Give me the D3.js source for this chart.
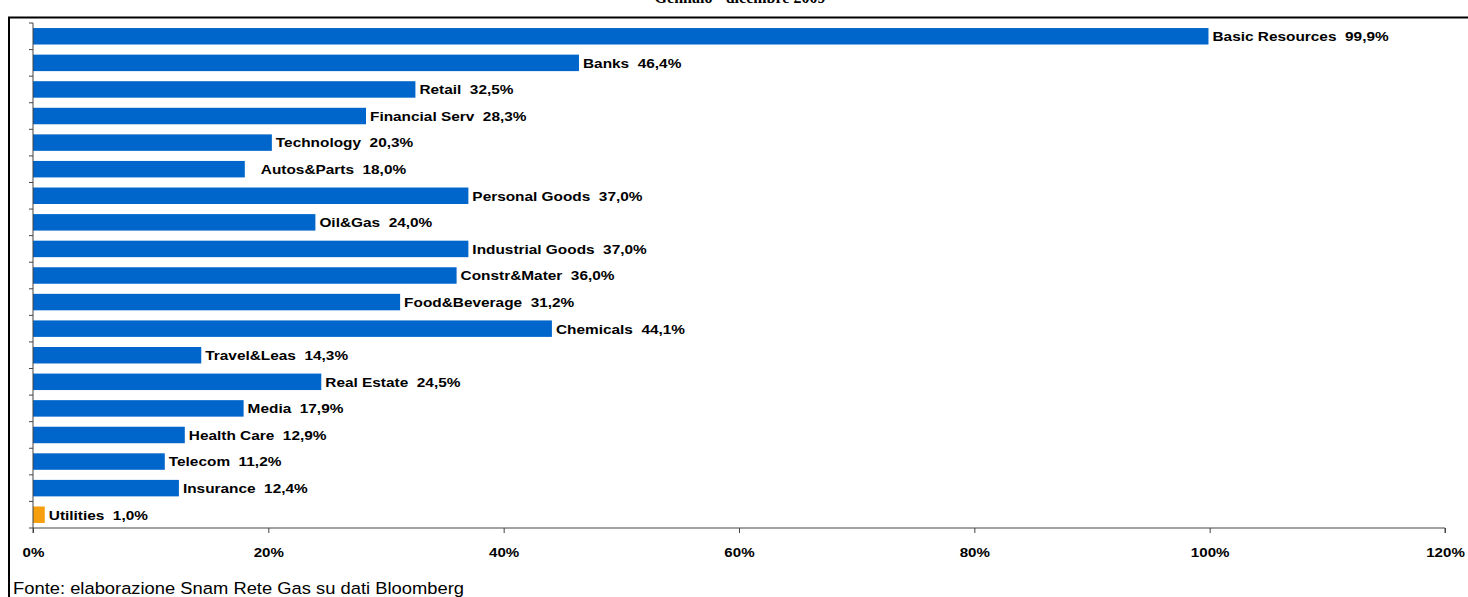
<!DOCTYPE html>
<html>
<head>
<meta charset="utf-8">
<script src="https://cdn.jsdelivr.net/npm/d3@7"></script>
<style>
    body { margin: 0; background: #fff; }
    svg { display: block; }
</style>
</head>
<body>
<div id="chart"></div>
<script>
// data
const sectors = ["Basic Resources", "Banks", "Retail", "Financial Serv", "Technology", "Autos&Parts",
    "Personal Goods", "Oil&Gas", "Industrial Goods", "Constr&Mater", "Food&Beverage", "Chemicals",
    "Travel&Leas", "Real Estate", "Media", "Health Care", "Telecom", "Insurance", "Utilities"];
const values = [99.9, 46.4, 32.5, 28.3, 20.3, 18.0, 37.0, 24.0, 37.0, 36.0, 31.2, 44.1,
    14.3, 24.5, 17.9, 12.9, 11.2, 12.4, 1.0];
const xTicks = [0, 20, 40, 60, 80, 100, 120];
const highlight = "Utilities";

const width = 1468, height = 597;
const margin = { top: 23, left: 33, right: 23, bottom: 69 };
const font = "Liberation Sans, Arial, sans-serif";

const svg = d3.select("#chart")
    .append("svg")
    .attr("width", width)
    .attr("height", height);

// title, mostly cut off at the top (as in the source)
svg.append("text")
    .attr("x", 740)
    .attr("y", 3)
    .attr("text-anchor", "middle")
    .attr("font-family", "Liberation Serif, Times New Roman, serif")
    .attr("font-weight", "bold")
    .attr("font-size", "16px")
    .text("Gennaio - dicembre 2009");

// frame
svg.append("path")
    .attr("d", `M9,${height} V17.5 H${width}`)
    .attr("fill", "none")
    .attr("stroke", "#000")
    .attr("stroke-width", 2);

const x = d3.scaleLinear().domain([0, 120]).range([margin.left, width - margin.right]);
const y = d3.scaleBand().domain(sectors).range([margin.top, height - margin.bottom]).paddingInner(0.38).paddingOuter(0.19);

const fmt = v => d3.format(".1f")(v).replace(".", ",") + "%";

// bars
svg.selectAll("rect.bar")
    .data(sectors)
    .enter()
    .append("rect")
    .attr("class", "bar")
    .attr("x", x(0))
    .attr("y", d => y(d))
    .attr("width", (d, i) => x(values[i]) - x(0))
    .attr("height", y.bandwidth())
    .attr("fill", d => d === highlight ? "#F7A00F" : "#0066CC");

// labels (source text is a bit stretched horizontally)
svg.selectAll("text.lbl")
    .data(sectors)
    .enter()
    .append("text")
    .attr("class", "lbl")
    .attr("transform", (d, i) => `translate(${x(values[i]) + (d === "Autos&Parts" ? 16 : 4)}, ${y(d) + y.bandwidth() / 2}) scale(1.14, 1)`)
    .attr("dy", "0.36em")
    .attr("font-family", font)
    .attr("font-weight", "bold")
    .attr("font-size", "13.5px")
    .attr("fill", "#000")
    .style("white-space", "pre")
    .text((d, i) => `${d}  ${fmt(values[i])}`);

// y axis line with ticks at band edges
const yTop = margin.top, yBot = height - margin.bottom;
svg.append("line")
    .attr("x1", x(0)).attr("x2", x(0))
    .attr("y1", yTop).attr("y2", yBot)
    .attr("stroke", "#444").attr("stroke-width", 1);
const step = (yBot - yTop) / sectors.length;
svg.selectAll("line.ytick")
    .data(d3.range(sectors.length + 1))
    .enter()
    .append("line")
    .attr("class", "ytick")
    .attr("x1", x(0) - 4).attr("x2", x(0))
    .attr("y1", d => yTop + d * step).attr("y2", d => yTop + d * step)
    .attr("stroke", "#444");

// x axis
const xAxis = d3.axisBottom(x)
    .tickValues(xTicks)
    .tickSize(5)
    .tickFormat(d => d + "%");
const gx = svg.append("g")
    .attr("transform", `translate(0, ${yBot})`)
    .call(xAxis);
gx.select(".domain").attr("stroke", "#444").attr("d", `M${x(0)},5V0H${x(120)}V5`);
gx.selectAll(".tick line").attr("stroke", "#444");
gx.selectAll(".tick text")
    .attr("y", 19)
    .attr("transform", "scale(1.12, 1)")
    .attr("font-family", font)
    .attr("font-weight", "bold")
    .attr("font-size", "13.5px")
    .attr("fill", "#000");

// source note
svg.append("text")
    .attr("transform", "translate(13, 594) scale(1.08, 1)")
    .attr("font-family", font)
    .attr("font-size", "17px")
    .attr("fill", "#000")
    .text("Fonte: elaborazione Snam Rete Gas su dati Bloomberg");
</script>
</body>
</html>
